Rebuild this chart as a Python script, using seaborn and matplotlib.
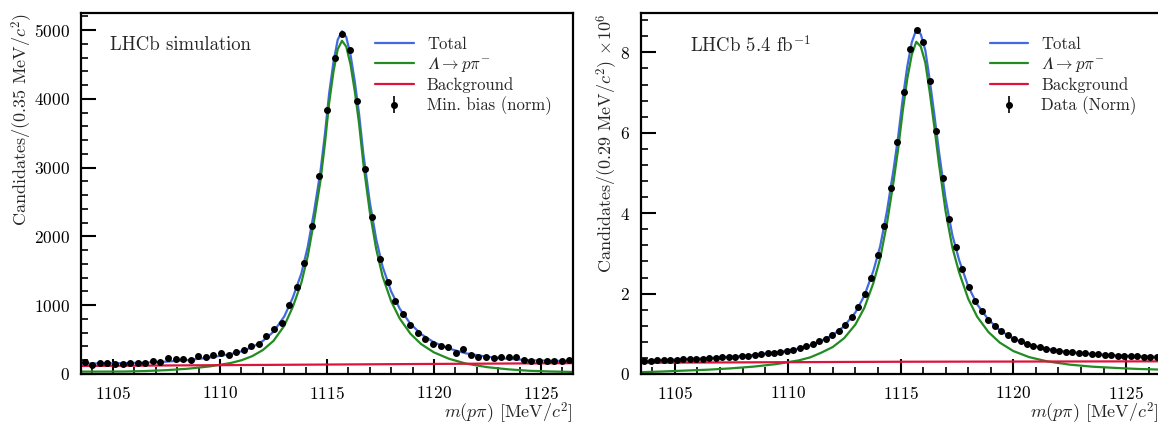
import numpy as np
import pandas as pd
import matplotlib
matplotlib.use("Agg")
import matplotlib.pyplot as plt
import seaborn as sns
from matplotlib.ticker import MultipleLocator
from matplotlib.mathtext import MathTextParser

# ---- binning -------------------------------------------------------------
MASS_LO, MASS_HI = 1103.5, 1126.5
N_BINS_MC = 65
N_BINS_DATA = 80

# ---- minimum-bias simulation (candidates per bin) --------------------------
mc_counts = [169, 135, 154, 159, 149, 145, 154, 154, 159, 183, 178, 236, 212,
             217, 207, 255, 251, 270, 299, 280, 318, 347, 410, 443, 549, 651,
             742, 998, 1272, 1619, 2149,
             2875, 3839, 4590, 4947, 4711, 3964, 2986,
             2284, 1677, 1340, 1055, 867, 718, 598, 511, 439, 405, 386, 299,
             357, 275, 246, 251, 236, 241, 251, 241, 207, 183, 183, 193, 183,
             183, 198]
mc_err = 24.0

# ---- collision data (candidates per bin, x 10^6) ---------------------------
data_counts = [0.33, 0.335, 0.34, 0.345, 0.35, 0.36, 0.365, 0.37, 0.38, 0.385,
               0.395, 0.405, 0.415, 0.425, 0.435, 0.445, 0.46, 0.475, 0.49,
               0.51, 0.53, 0.555,
               0.58, 0.605, 0.64, 0.685, 0.74, 0.81, 0.88, 0.97, 1.08, 1.22,
               1.42, 1.66, 1.99, 2.40, 2.95,
               3.67, 4.62, 5.77, 7.02, 8.08, 8.56, 8.25, 7.29, 6.05, 4.875,
               3.85, 3.17, 2.60, 2.16, 1.82, 1.56, 1.34, 1.19, 1.06, 0.96,
               0.88, 0.81, 0.75, 0.70, 0.66,
               0.625, 0.60, 0.575, 0.555, 0.54, 0.525, 0.51, 0.50, 0.49, 0.48,
               0.47, 0.46, 0.45, 0.445, 0.44, 0.435, 0.43, 0.425]
data_err = 0.01

# ---- fit curves ------------------------------------------------------------
curve_mass = [1103.5, 1104.5, 1105.5, 1106.5, 1107.5, 1108.5, 1109.5, 1110.5,
              1111.0, 1111.5, 1112.0, 1112.5, 1113.0, 1113.4, 1113.8, 1114.1,
              1114.4, 1114.7, 1114.9, 1115.1, 1115.3, 1115.5, 1115.7, 1115.9,
              1116.1, 1116.3, 1116.5, 1116.7, 1117.0, 1117.3, 1117.6, 1118.0,
              1118.4, 1118.9, 1119.4, 1120.0, 1120.7, 1121.5, 1122.5, 1123.5,
              1124.5, 1125.5, 1126.5]

mc_total = [152, 154, 157, 165, 180, 203, 238, 290, 330, 390, 480, 615, 835,
            1110, 1460, 1850, 2370, 2960, 3480, 4080, 4530, 4860, 4985, 4900,
            4640, 4250, 3780, 3200, 2500, 1960, 1560, 1200, 950, 730, 580, 460,
            370, 300, 250, 220, 200, 192, 188]
mc_signal = [35, 35, 36, 43, 56, 77, 110, 160, 200, 259, 348, 482, 701, 975,
             1325, 1714, 2234, 2823, 3343, 3942, 4392, 4722, 4846, 4761, 4500,
             4110, 3640, 3059, 2359, 1818, 1418, 1057, 806, 586, 435, 314, 222,
             151, 99, 67, 46, 36, 30]
mc_bkg_mass = [1103.5, 1126.5]
mc_bkg = [117, 158]

data_total = [0.325, 0.345, 0.37, 0.395, 0.43, 0.475, 0.54, 0.635, 0.71, 0.83,
              0.97, 1.19, 1.53, 1.95, 2.57, 3.18, 4.05, 5.12, 5.92, 6.85, 7.65,
              8.25, 8.57, 8.45, 8.05, 7.30, 6.45, 5.55, 4.35, 3.45, 2.83, 2.18,
              1.73, 1.35, 1.09, 0.88, 0.73, 0.625, 0.545, 0.495, 0.465, 0.44,
              0.425]
data_signal = [0.045, 0.063, 0.086, 0.108, 0.141, 0.184, 0.247, 0.340, 0.414,
               0.533, 0.672, 0.89, 1.229, 1.648, 2.267, 2.877, 3.746, 4.816,
               5.615, 6.545, 7.345, 7.945, 8.264, 8.144, 7.744, 6.994, 6.144,
               5.244, 4.043, 3.143, 2.523, 1.872, 1.422, 1.042, 0.781, 0.571,
               0.420, 0.314, 0.233, 0.182, 0.152, 0.126, 0.110]
data_bkg_mass = [1103.5, 1115.0, 1126.5]
data_bkg = [0.28, 0.305, 0.315]

# ---- style -----------------------------------------------------------------
sns.set_theme(style="ticks")
plt.rcParams.update({
    "font.family": ["cmr10", "DejaVu Serif"],
    "mathtext.fontset": "cm",
    "axes.formatter.use_mathtext": True,
    "font.size": 12.5,
    "axes.linewidth": 1.6,
    "xtick.direction": "in",
    "ytick.direction": "in",
    "xtick.major.size": 10.5,
    "ytick.major.size": 10.5,
    "xtick.minor.size": 5.0,
    "ytick.minor.size": 5.0,
    "xtick.major.width": 1.5,
    "ytick.major.width": 1.5,
    "xtick.minor.width": 1.2,
    "ytick.minor.width": 1.2,
    "xtick.major.pad": 8,
    "ytick.major.pad": 8,
    "xtick.labelsize": 12.5,
    "ytick.labelsize": 12.5,
    "axes.edgecolor": "black",
    "xtick.color": "black",
    "ytick.color": "black",
})

C_TOTAL = "#4169E1"
C_SIG = "#228B22"
C_BKG = "#DC143C"


def signal_label():
    """Italic capital lambda for the decay label, with an upright fallback."""
    candidate = "$\U0001D6EC\\rightarrow p\\pi^{-}$"
    try:
        MathTextParser("path").parse(candidate, dpi=100)
        return candidate
    except Exception:
        return r"$\Lambda\rightarrow p\pi^{-}$"


SIG_LABEL = signal_label()

fig = plt.figure(figsize=(11.58, 4.25), dpi=100)
ax_mc = fig.add_axes([81 / 1158, 51 / 425, 492 / 1158, 361 / 425])
ax_dt = fig.add_axes([641 / 1158, 51 / 425, 519 / 1158, 361 / 425])
ax_dt.spines["right"].set_visible(False)


def centres(n):
    edges = np.linspace(MASS_LO, MASS_HI, n + 1)
    return 0.5 * (edges[1:] + edges[:-1])


def draw_panel(ax, counts, err, total, signal, bkg_x, bkg, data_label):
    fit = pd.DataFrame({"mass": curve_mass, "total": total, "signal": signal})
    bk = pd.DataFrame({"mass": bkg_x, "bkg": bkg})
    sns.lineplot(data=fit, x="mass", y="total", ax=ax, color=C_TOTAL, lw=1.6,
                 label="Total")
    sns.lineplot(data=fit, x="mass", y="signal", ax=ax, color=C_SIG, lw=1.6,
                 label=SIG_LABEL)
    sns.lineplot(data=bk, x="mass", y="bkg", ax=ax, color=C_BKG, lw=1.6,
                 label="Background")
    x = centres(len(counts))
    ax.errorbar(x, counts, yerr=err, fmt="o", color="black", ms=4.0,
                elinewidth=1.2, capsize=0, label=data_label, zorder=5)
    ax.set_xlim(MASS_LO, MASS_HI)
    ax.xaxis.set_major_locator(MultipleLocator(5))
    ax.xaxis.set_minor_locator(MultipleLocator(1))
    ax.tick_params(which="both", top=False, right=False)
    ax.set_xlabel(r"$m(p\pi)$ [MeV/$c^2$]", loc="right", labelpad=-1,
                  fontsize=13)


draw_panel(ax_mc, mc_counts, mc_err, mc_total, mc_signal, mc_bkg_mass, mc_bkg,
           "Min. bias (norm)")
ax_mc.set_ylim(0, 5250)
ax_mc.yaxis.set_major_locator(MultipleLocator(1000))
ax_mc.yaxis.set_minor_locator(MultipleLocator(200))
ax_mc.set_ylabel(r"Candidates/(0.35 MeV/$c^2$)", loc="top", labelpad=-1,
                 fontsize=13)
ax_mc.text(0.059, 0.91, "LHCb simulation", transform=ax_mc.transAxes,
           ha="left", va="center", fontsize=13.5)

draw_panel(ax_dt, data_counts, data_err, data_total, data_signal,
           data_bkg_mass, data_bkg, "Data (Norm)")
ax_dt.xaxis.label.set_x(0.997)
ax_dt.set_ylim(0, 8.98)
ax_dt.yaxis.set_major_locator(MultipleLocator(2))
ax_dt.yaxis.set_minor_locator(MultipleLocator(0.4))
ax_dt.set_ylabel(r"Candidates/(0.29 MeV/$c^2$) $\times10^6$", loc="top",
                 labelpad=0, fontsize=13)
ax_dt.text(0.094, 0.91, r"LHCb 5.4 fb$^{-1}$", transform=ax_dt.transAxes,
           ha="left", va="center", fontsize=13.5)

for ax, xa in ((ax_mc, 0.598), (ax_dt, 0.672)):
    h, l = ax.get_legend_handles_labels()
    ax.legend(h, l, loc="upper left", bbox_to_anchor=(xa, 0.935), frameon=False,
              borderpad=0, borderaxespad=0, handlelength=2.3,
              handletextpad=0.8, labelspacing=0.2, fontsize=12)

fig.savefig("out.png", dpi=100)
